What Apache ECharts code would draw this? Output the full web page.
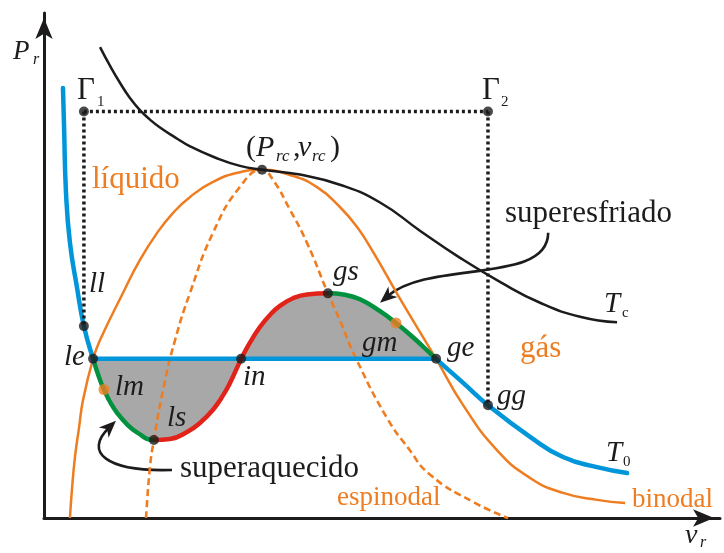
<!DOCTYPE html>
<html>
<head>
<meta charset="utf-8">
<script src="https://cdn.jsdelivr.net/npm/echarts@6/dist/echarts.min.js"></script>
<style>
  html, body { margin: 0; padding: 0; background: #fff; }
  #chart { width: 724px; height: 553px; }
</style>
</head>
<body>
<div id="chart"></div>
<script>
// Reduced pressure–volume diagram: isotherms, binodal and spinodal curves.
// All curves are given as [v_r, P_r] pairs.

// Critical isotherm T_c
const isothermTc = [
  [0.257, 1.352], [0.303, 1.298], [0.349, 1.249], [0.394, 1.206], [0.440, 1.171],
  [0.486, 1.144], [0.532, 1.121], [0.601, 1.093], [0.670, 1.067], [0.784, 1.035],
  [0.899, 1.011], [1.000, 1.000], [1.174, 0.986], [1.357, 0.957], [1.541, 0.906],
  [1.724, 0.825], [1.908, 0.747], [2.091, 0.678], [2.275, 0.618], [2.458, 0.578],
  [2.628, 0.562]
];

// Subcritical isotherm T_0 (van der Waals loop included)
const isothermT0 = [
  [0.087, 1.235], [0.092, 1.123], [0.101, 0.933], [0.119, 0.790], [0.151, 0.663],
  [0.183, 0.551], [0.225, 0.457], [0.257, 0.396], [0.275, 0.369], [0.303, 0.333],
  [0.335, 0.302], [0.381, 0.269], [0.426, 0.246], [0.504, 0.224], [0.578, 0.227],
  [0.656, 0.247], [0.715, 0.273], [0.775, 0.311], [0.821, 0.352], [0.853, 0.388],
  [0.885, 0.431], [0.904, 0.457], [0.945, 0.504], [0.991, 0.549], [1.036, 0.583],
  [1.082, 0.609], [1.142, 0.631], [1.206, 0.642], [1.302, 0.645], [1.380, 0.641],
  [1.449, 0.628], [1.541, 0.594], [1.614, 0.560], [1.692, 0.519], [1.798, 0.457],
  [1.922, 0.388], [2.036, 0.324], [2.229, 0.233], [2.380, 0.175], [2.536, 0.146],
  [2.674, 0.129]
];

// Coexistence (binodal) curve
const binodal = [
  [0.119, 0.000], [0.128, 0.080], [0.142, 0.175], [0.161, 0.261], [0.179, 0.339],
  [0.225, 0.457], [0.257, 0.511], [0.362, 0.646], [0.440, 0.741], [0.518, 0.818],
  [0.592, 0.876], [0.670, 0.922], [0.775, 0.965], [0.899, 0.993], [1.000, 1.000],
  [1.128, 0.985], [1.252, 0.950], [1.357, 0.893], [1.435, 0.836], [1.509, 0.764],
  [1.633, 0.629], [1.798, 0.457], [1.922, 0.324], [2.077, 0.195], [2.229, 0.115],
  [2.380, 0.072], [2.537, 0.052], [2.665, 0.043]
];

// Stability limit (spinodal) curve
const spinodal = [
  [0.468, 0.000], [0.486, 0.147], [0.504, 0.224], [0.546, 0.368], [0.601, 0.511],
  [0.670, 0.647], [0.775, 0.819], [0.899, 0.951], [1.000, 1.000], [1.050, 0.971],
  [1.128, 0.885], [1.206, 0.790], [1.302, 0.645], [1.358, 0.566], [1.427, 0.463],
  [1.573, 0.287], [1.670, 0.201], [1.771, 0.124], [1.968, 0.046], [2.128, 0.000]
];

// Saturation pressure of T_0 (Maxwell construction)
const saturationP = 0.457;

// Named states
const stateNames = ['Γ1', 'Γ2', 'crit', 'll', 'le', 'lm', 'ls', 'in', 'gs', 'gm', 'ge', 'gg'];
const stateV     = [0.183, 2.036, 1.000, 0.183, 0.225, 0.275, 0.504, 0.904, 1.302, 1.614, 1.798, 2.036];
const stateP     = [1.167, 1.167, 1.000, 0.551, 0.457, 0.369, 0.224, 0.457, 0.645, 0.560, 0.457, 0.324];
const metastableMarks = ['lm', 'gm'];

// Annotation arrows: start, two control points, shaft end, tip
const arrowSuperesfriado = [[2.312, 0.819], [2.312, 0.670], [1.771, 0.741], [1.578, 0.638], [1.541, 0.618]];
const arrowSuperaquecido = [[0.587, 0.138], [0.280, 0.132], [0.183, 0.190], [0.298, 0.259], [0.330, 0.279]];

// ---------------------------------------------------------------------------
const state = {};
stateNames.forEach((n, i) => { state[n] = [stateV[i], stateP[i]]; });

const ORANGE = '#EE7D22';
const BLUE = '#0096D9';
const GREEN = '#00923F';
const RED = '#E2231A';
const INK = '#1d1b1c';
const GREY = '#A8A8A8';
const SERIF = '"Liberation Serif", "Times New Roman", serif';

const loop = isothermT0.filter(p => p[0] >= state.le[0] && p[0] <= state.ge[0]);
const arrows = [arrowSuperesfriado, arrowSuperaquecido];

function label(text, x, y, size, opt) {
  opt = opt || {};
  return {
    type: 'text', x: x, y: y, z: 50, silent: true,
    style: {
      text: text, fontFamily: SERIF, fontSize: size,
      fontStyle: opt.italic ? 'italic' : 'normal',
      fill: opt.color || INK, align: 'left', verticalAlign: 'middle'
    }
  };
}

const texts = [
  label('P', 13, 52, 27, {italic: true}), label('r', 33, 60, 16, {italic: true}),
  label('v', 685, 536, 28, {italic: true}), label('r', 700, 543, 16, {italic: true}),
  label('Γ', 77, 90.5, 31), label('1', 97, 102.5, 15),
  label('Γ', 482, 90.5, 31), label('2', 501, 102.5, 15),
  label('(', 246, 148, 30), label('P', 256, 148, 30, {italic: true}),
  label('rc', 276, 157, 17, {italic: true}), label(',', 293, 148, 30),
  label('v', 298, 148, 30, {italic: true}), label('rc', 312, 157, 17, {italic: true}),
  label(')', 330, 148, 30),
  label('líquido', 92, 179.5, 31, {color: ORANGE}),
  label('gás', 520, 348.5, 31, {color: ORANGE}),
  label('espinodal', 337, 498, 27, {color: ORANGE}),
  label('binodal', 632, 500, 27, {color: ORANGE}),
  label('superesfriado', 505, 213.5, 31),
  label('superaquecido', 180, 468.5, 31),
  label('ll', 89, 284, 29, {italic: true}),
  label('le', 64, 357, 29, {italic: true}),
  label('lm', 115, 387, 29, {italic: true}),
  label('ls', 167, 418, 29, {italic: true}),
  label('in', 243, 377, 29, {italic: true}),
  label('gs', 333, 272, 29, {italic: true}),
  label('gm', 362, 343, 29, {italic: true}),
  label('ge', 447, 348, 29, {italic: true}),
  label('gg', 497, 396, 29, {italic: true}),
  label('T', 604, 304, 29, {italic: true}), label('c', 622, 313.5, 15),
  label('T', 606, 453, 29, {italic: true}), label('0', 623, 462.5, 15)
];

function curve(data, lineStyle) {
  return {
    type: 'line', data: data, smooth: 0.5, symbol: 'none', silent: true,
    lineStyle: lineStyle
  };
}

function dotted(a, b) {
  return {
    type: 'line', data: [state[a], state[b]], symbol: 'none', silent: true,
    lineStyle: {color: INK, width: 3.5, type: [3, 3]}
  };
}

const series = [
  // shaded area of the loop, relative to the saturation line
  {
    type: 'line', data: loop, smooth: 0.5, symbol: 'none', silent: true,
    lineStyle: {width: 0, opacity: 0},
    areaStyle: {color: GREY, opacity: 1, origin: saturationP}
  },
  curve(binodal, {color: ORANGE, width: 2.5}),
  curve(spinodal, {color: ORANGE, width: 2.6, type: [7, 4]}),
  curve(isothermTc, {color: INK, width: 2.5}),
  {
    type: 'line', data: [state.le, state.ge], symbol: 'none', silent: true,
    lineStyle: {color: BLUE, width: 4.5}
  },
  // T_0: colour comes from the visualMap pieces (stable / metastable / unstable)
  curve(isothermT0, {width: 4.5, cap: 'round'}),
  dotted('Γ1', 'll'), dotted('Γ1', 'Γ2'), dotted('Γ2', 'gg'),
  {
    type: 'custom', silent: true,
    data: arrows.map(() => [0, 0]),
    renderItem: function (params, api) {
      const a = arrows[params.dataIndex].map(p => api.coord(p));
      const p0 = a[0], c1 = a[1], c2 = a[2], p3 = a[3], tip = a[4];
      const dx = tip[0] - c2[0], dy = tip[1] - c2[1];
      const len = Math.sqrt(dx * dx + dy * dy);
      const ux = dx / len, uy = dy / len, nx = -uy, ny = ux;
      const L = 17, W = 7;
      const bx = tip[0] - ux * L, by = tip[1] - uy * L;
      return {
        type: 'group',
        children: [
          {
            type: 'bezierCurve',
            shape: {x1: p0[0], y1: p0[1], cpx1: c1[0], cpy1: c1[1], cpx2: c2[0], cpy2: c2[1], x2: p3[0], y2: p3[1]},
            style: {stroke: INK, lineWidth: 2.6, fill: null}
          },
          {
            type: 'polygon',
            shape: {points: [
              [tip[0], tip[1]],
              [bx + nx * W, by + ny * W],
              [tip[0] - ux * L * 0.72, tip[1] - uy * L * 0.72],
              [bx - nx * W, by - ny * W]
            ]},
            style: {fill: INK}
          }
        ]
      };
    }
  },
  {
    type: 'scatter', silent: true, symbolSize: 10, z: 10,
    itemStyle: {color: INK},
    data: stateNames.filter(n => metastableMarks.indexOf(n) < 0).map(n => state[n])
  },
  {
    type: 'scatter', silent: true, symbolSize: 11, z: 10,
    itemStyle: {color: ORANGE},
    data: metastableMarks.map(n => state[n])
  }
];

const T0_INDEX = 5;

const chart = echarts.init(document.getElementById('chart'), null, {renderer: 'canvas'});
chart.setOption({
  animation: false,
  backgroundColor: '#ffffff',
  grid: {left: 44, right: 4, top: 13, bottom: 35, outerBoundsMode: 'none'},
  xAxis: {
    type: 'value', min: 0, max: 3.1,
    axisLine: {show: true, onZero: false, lineStyle: {color: INK, width: 3},
      symbol: ['none', 'arrow'], symbolSize: [13, 21], symbolOffset: [0, -6]},
    axisTick: {show: false}, axisLabel: {show: false}, splitLine: {show: false}
  },
  yAxis: {
    type: 'value', min: 0, max: 1.45,
    axisLine: {show: true, onZero: false, lineStyle: {color: INK, width: 3},
      symbol: ['none', 'arrow'], symbolSize: [13, 21], symbolOffset: [0, -5]},
    axisTick: {show: false}, axisLabel: {show: false}, splitLine: {show: false}
  },
  visualMap: {
    type: 'piecewise', show: false, dimension: 0, seriesIndex: T0_INDEX,
    pieces: [
      {lt: state.le[0], color: BLUE},
      {gte: state.le[0], lt: state.ls[0], color: GREEN},
      {gte: state.ls[0], lt: state.gs[0], color: RED},
      {gte: state.gs[0], lt: state.ge[0], color: GREEN},
      {gte: state.ge[0], color: BLUE}
    ]
  },
  series: series,
  graphic: texts
});
</script>
</body>
</html>
